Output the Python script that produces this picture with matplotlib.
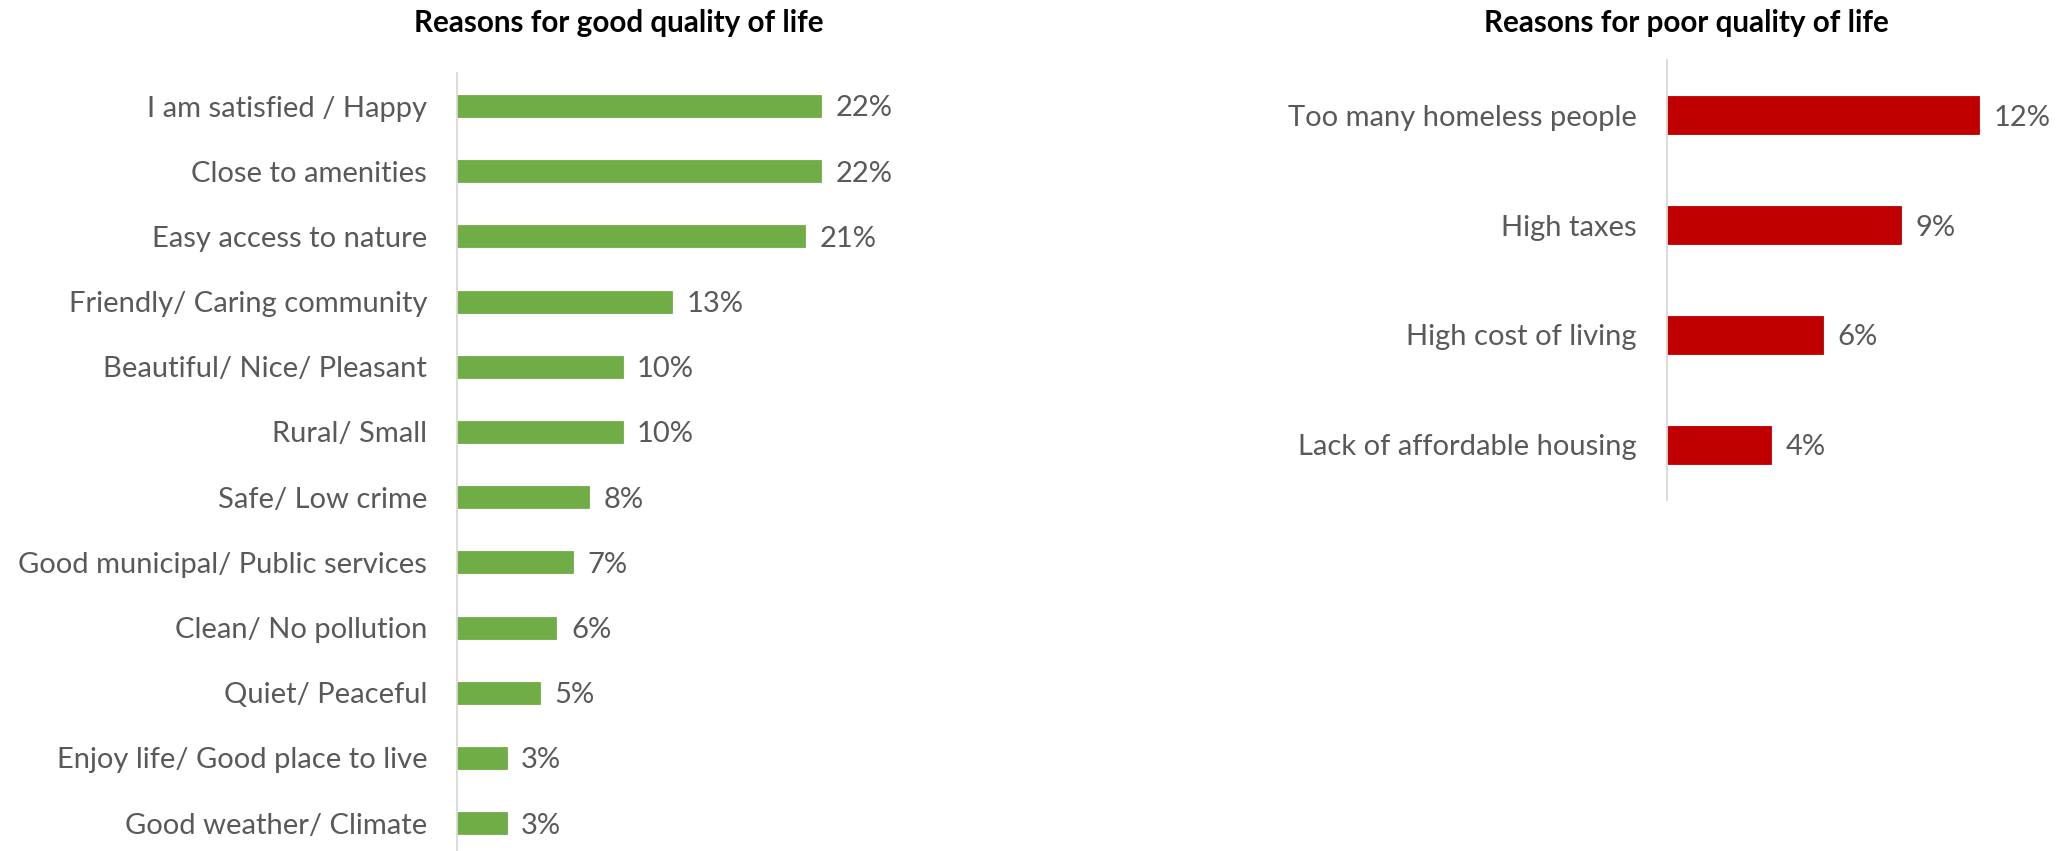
import matplotlib
matplotlib.use("Agg")
import matplotlib.pyplot as plt

plt.rcParams['font.family'] = ['Lato', 'DejaVu Sans']

# Reasons for good quality of life (% of respondents)
good_reasons = [
    "I am satisfied / Happy",
    "Close to amenities",
    "Easy access to nature",
    "Friendly/ Caring community",
    "Beautiful/ Nice/ Pleasant",
    "Rural/ Small",
    "Safe/ Low crime",
    "Good municipal/ Public services",
    "Clean/ No pollution",
    "Quiet/ Peaceful",
    "Enjoy life/ Good place to live",
    "Good weather/ Climate",
]
good_values = [22, 22, 21, 13, 10, 10, 8, 7, 6, 5, 3, 3]

# Reasons for poor quality of life (% of respondents)
poor_reasons = [
    "Too many homeless people",
    "High taxes",
    "High cost of living",
    "Lack of affordable housing",
]
poor_values = [12, 9, 6, 4]

GREEN = "#70AD47"
RED = "#C00000"
LABEL_GREY = "#595959"
AXIS_GREY = "#D9D9D9"

W, H, DPI = 2059, 851, 100
fig = plt.figure(figsize=(W / DPI, H / DPI), dpi=DPI)
fig.patch.set_facecolor("white")


def px_axes(left, top, width, height):
    """Create axes from pixel coordinates measured from the top-left corner."""
    return fig.add_axes([left / W, 1 - (top + height) / H, width / W, height / H])


def draw_panel(ax, labels, values, color, xmax, bar_h, fontsize):
    n = len(labels)
    pos = list(range(n))
    ax.barh(pos, values, height=bar_h, color=color, edgecolor=color, linewidth=0.6)
    ax.set_xlim(0, xmax)
    ax.set_ylim(n - 0.5, -0.5)
    ax.set_yticks(pos)
    ax.set_yticklabels(labels, fontsize=fontsize, color=LABEL_GREY,
                       va="center_baseline")
    ax.set_xticks([])
    ax.tick_params(axis="y", length=0, pad=21.5)
    for side in ("top", "right", "bottom"):
        ax.spines[side].set_visible(False)
    ax.spines["left"].set_color(AXIS_GREY)
    ax.spines["left"].set_linewidth(1.3)
    ax.set_facecolor("none")
    for p, v in zip(pos, values):
        ax.annotate(f"{v}%", xy=(v, p), xytext=(10.5, 0), textcoords="offset points",
                    ha="left", va="center_baseline", fontsize=fontsize,
                    color=LABEL_GREY)


# Left panel: 16.55 px per percentage point
left_ax = px_axes(457, 73.4, 30 * 16.55, 782.4)
draw_panel(left_ax, good_reasons, good_values, GREEN, 30, 0.34, 21)

# Right panel: 26.05 px per percentage point
right_ax = px_axes(1666.7, 60.5, 14 * 26.05, 439)
draw_panel(right_ax, poor_reasons, poor_values, RED, 14, 0.346, 21)

fig.text(619 / W, 1 - 23 / H, "Reasons for good quality of life",
         ha="center", va="center", fontsize=21.3, fontweight="bold", color="black")
fig.text(1686 / W, 1 - 23 / H, "Reasons for poor quality of life",
         ha="center", va="center", fontsize=21.3, fontweight="bold", color="black")

fig.savefig("out.png", dpi=DPI, facecolor="white")
